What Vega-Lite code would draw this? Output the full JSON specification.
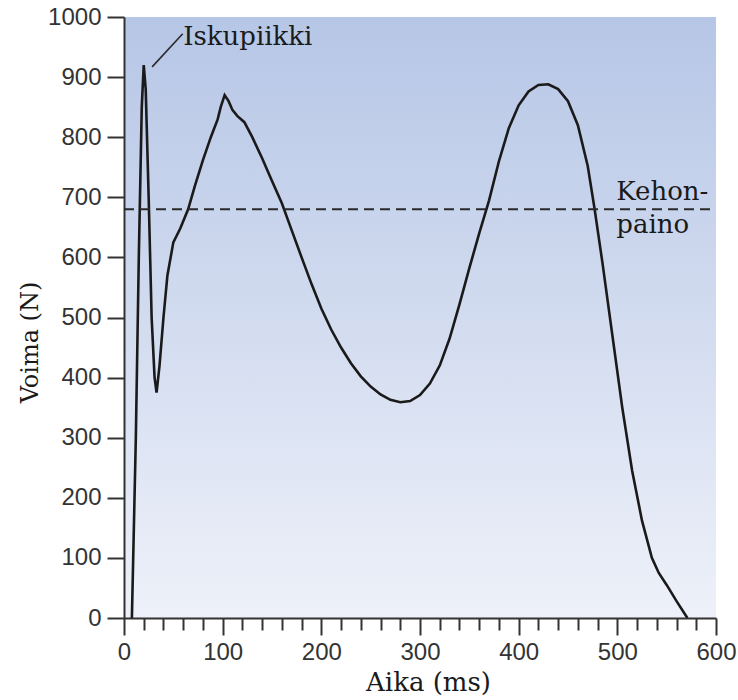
{
  "$schema": "https://vega.github.io/schema/vega-lite/v6.json",
  "width": 592,
  "height": 601,
  "autosize": {"type": "none"},
  "padding": {"left": 124, "top": 17, "right": 22, "bottom": 82},
  "background": "white",
  "config": {
    "view": {
      "stroke": null,
      "fill": {
        "gradient": "linear",
        "x1": 0, "y1": 0, "x2": 0, "y2": 1,
        "stops": [
          {"offset": 0, "color": "#b6c6e6"},
          {"offset": 1, "color": "#eef1f9"}
        ]
      }
    },
    "axis": {
      "domainColor": "#333333",
      "domainWidth": 2,
      "tickColor": "#333333",
      "tickWidth": 2,
      "grid": false,
      "labelFont": "Liberation Sans, Arial, sans-serif",
      "labelFontSize": 24,
      "labelColor": "#333333",
      "titleFont": "DejaVu Serif",
      "titleFontWeight": "normal",
      "titleColor": "#1a1a1a"
    }
  },
  "datasets": {
    "force": [
      {"t": 8, "f": 0},
      {"t": 12, "f": 300},
      {"t": 15, "f": 600},
      {"t": 18, "f": 850},
      {"t": 20, "f": 920},
      {"t": 22, "f": 880},
      {"t": 25, "f": 700},
      {"t": 28, "f": 500},
      {"t": 31, "f": 400},
      {"t": 33, "f": 375},
      {"t": 36, "f": 420},
      {"t": 40, "f": 500},
      {"t": 44, "f": 570},
      {"t": 50, "f": 625},
      {"t": 57, "f": 648},
      {"t": 65, "f": 680},
      {"t": 72, "f": 720},
      {"t": 80, "f": 762},
      {"t": 88, "f": 800},
      {"t": 95, "f": 830},
      {"t": 98, "f": 850},
      {"t": 102, "f": 870},
      {"t": 106, "f": 860},
      {"t": 110, "f": 845},
      {"t": 115, "f": 835},
      {"t": 122, "f": 825},
      {"t": 130, "f": 800},
      {"t": 140, "f": 765},
      {"t": 150, "f": 727},
      {"t": 160, "f": 690},
      {"t": 170, "f": 645},
      {"t": 180, "f": 600},
      {"t": 190, "f": 556},
      {"t": 200, "f": 515},
      {"t": 210, "f": 480},
      {"t": 220, "f": 450},
      {"t": 230, "f": 424},
      {"t": 240, "f": 402},
      {"t": 250, "f": 385},
      {"t": 260, "f": 372},
      {"t": 270, "f": 363},
      {"t": 280, "f": 359},
      {"t": 290, "f": 361},
      {"t": 300, "f": 371},
      {"t": 310, "f": 390},
      {"t": 320, "f": 420},
      {"t": 330, "f": 465},
      {"t": 340, "f": 522},
      {"t": 350, "f": 582},
      {"t": 360, "f": 640},
      {"t": 370, "f": 695},
      {"t": 380, "f": 760},
      {"t": 390, "f": 815},
      {"t": 400, "f": 853},
      {"t": 410, "f": 876},
      {"t": 420, "f": 887},
      {"t": 430, "f": 888},
      {"t": 440, "f": 880},
      {"t": 450, "f": 860},
      {"t": 460, "f": 820},
      {"t": 470, "f": 752},
      {"t": 477, "f": 680},
      {"t": 485, "f": 590},
      {"t": 495, "f": 470},
      {"t": 505, "f": 350},
      {"t": 515, "f": 245},
      {"t": 525, "f": 162},
      {"t": 535, "f": 100},
      {"t": 542, "f": 75},
      {"t": 550, "f": 55},
      {"t": 560, "f": 28},
      {"t": 571, "f": 0}
    ],
    "bodyweight": [{"t": 0, "t2": 600, "f": 680}],
    "labels": [
      {"t": 60, "f": 953, "label": "Iskupiikki"},
      {"t": 499, "f": 696, "label": "Kehon-"},
      {"t": 499, "f": 641, "label": "paino"}
    ],
    "leader": [{"t": 28.5, "f": 917, "t2": 59.5, "f2": 972}]
  },
  "layer": [
    {
      "data": {"name": "force"},
      "mark": {"type": "line", "color": "#1a1a1a", "strokeWidth": 2.6, "interpolate": "linear", "clip": true},
      "encoding": {
        "x": {
          "field": "t", "type": "quantitative",
          "scale": {"domain": [0, 600], "nice": false},
          "axis": {
            "orient": "bottom",
            "values": [0, 20, 40, 60, 80, 100, 120, 140, 160, 180, 200, 220, 240, 260, 280, 300, 320, 340, 360, 380, 400, 420, 440, 460, 480, 500, 520, 540, 560, 580, 600],
            "tickCount": 100,
            "format": "d",
            "labelExpr": "datum.value % 100 === 0 ? datum.label : ''",
            "tickSize": {"condition": {"test": "datum.value % 100 === 0", "value": 17}, "value": 12},
            "labelPadding": 5,
            "labelFlush": false,
            "labelOverlap": false,
            "title": "Aika (ms)",
            "titleFontSize": 26,
            "titleX": 304,
            "titleY": 72,
            "titleBaseline": "alphabetic",
            "titleAnchor": "middle"
          }
        },
        "y": {
          "field": "f", "type": "quantitative",
          "scale": {"domain": [0, 1000], "nice": false},
          "axis": {
            "values": [0, 100, 200, 300, 400, 500, 600, 700, 800, 900, 1000],
            "tickCount": 100,
            "format": "d",
            "tickSize": 17,
            "labelPadding": 6,
            "labelFlush": false,
            "title": "Voima (N)",
            "titleFontSize": 24,
            "titleAngle": -90,
            "titleX": -87,
            "titleY": 325,
            "titleBaseline": "alphabetic",
            "titleAlign": "center"
          }
        }
      }
    },
    {
      "data": {"name": "bodyweight"},
      "mark": {"type": "rule", "color": "#2a2a2a", "strokeWidth": 2, "strokeDash": [10, 6]},
      "encoding": {
        "x": {"field": "t", "type": "quantitative"},
        "x2": {"field": "t2"},
        "y": {"field": "f", "type": "quantitative"}
      }
    },
    {
      "data": {"name": "leader"},
      "mark": {"type": "rule", "color": "#2a2a2a", "strokeWidth": 1.6},
      "encoding": {
        "x": {"field": "t", "type": "quantitative"},
        "x2": {"field": "t2"},
        "y": {"field": "f", "type": "quantitative"},
        "y2": {"field": "f2"}
      }
    },
    {
      "data": {"name": "labels"},
      "mark": {"type": "text", "font": "DejaVu Serif", "fontSize": 26, "align": "left", "baseline": "alphabetic", "color": "#1a1a1a"},
      "encoding": {
        "x": {"field": "t", "type": "quantitative"},
        "y": {"field": "f", "type": "quantitative"},
        "text": {"field": "label", "type": "nominal"}
      }
    }
  ]
}
